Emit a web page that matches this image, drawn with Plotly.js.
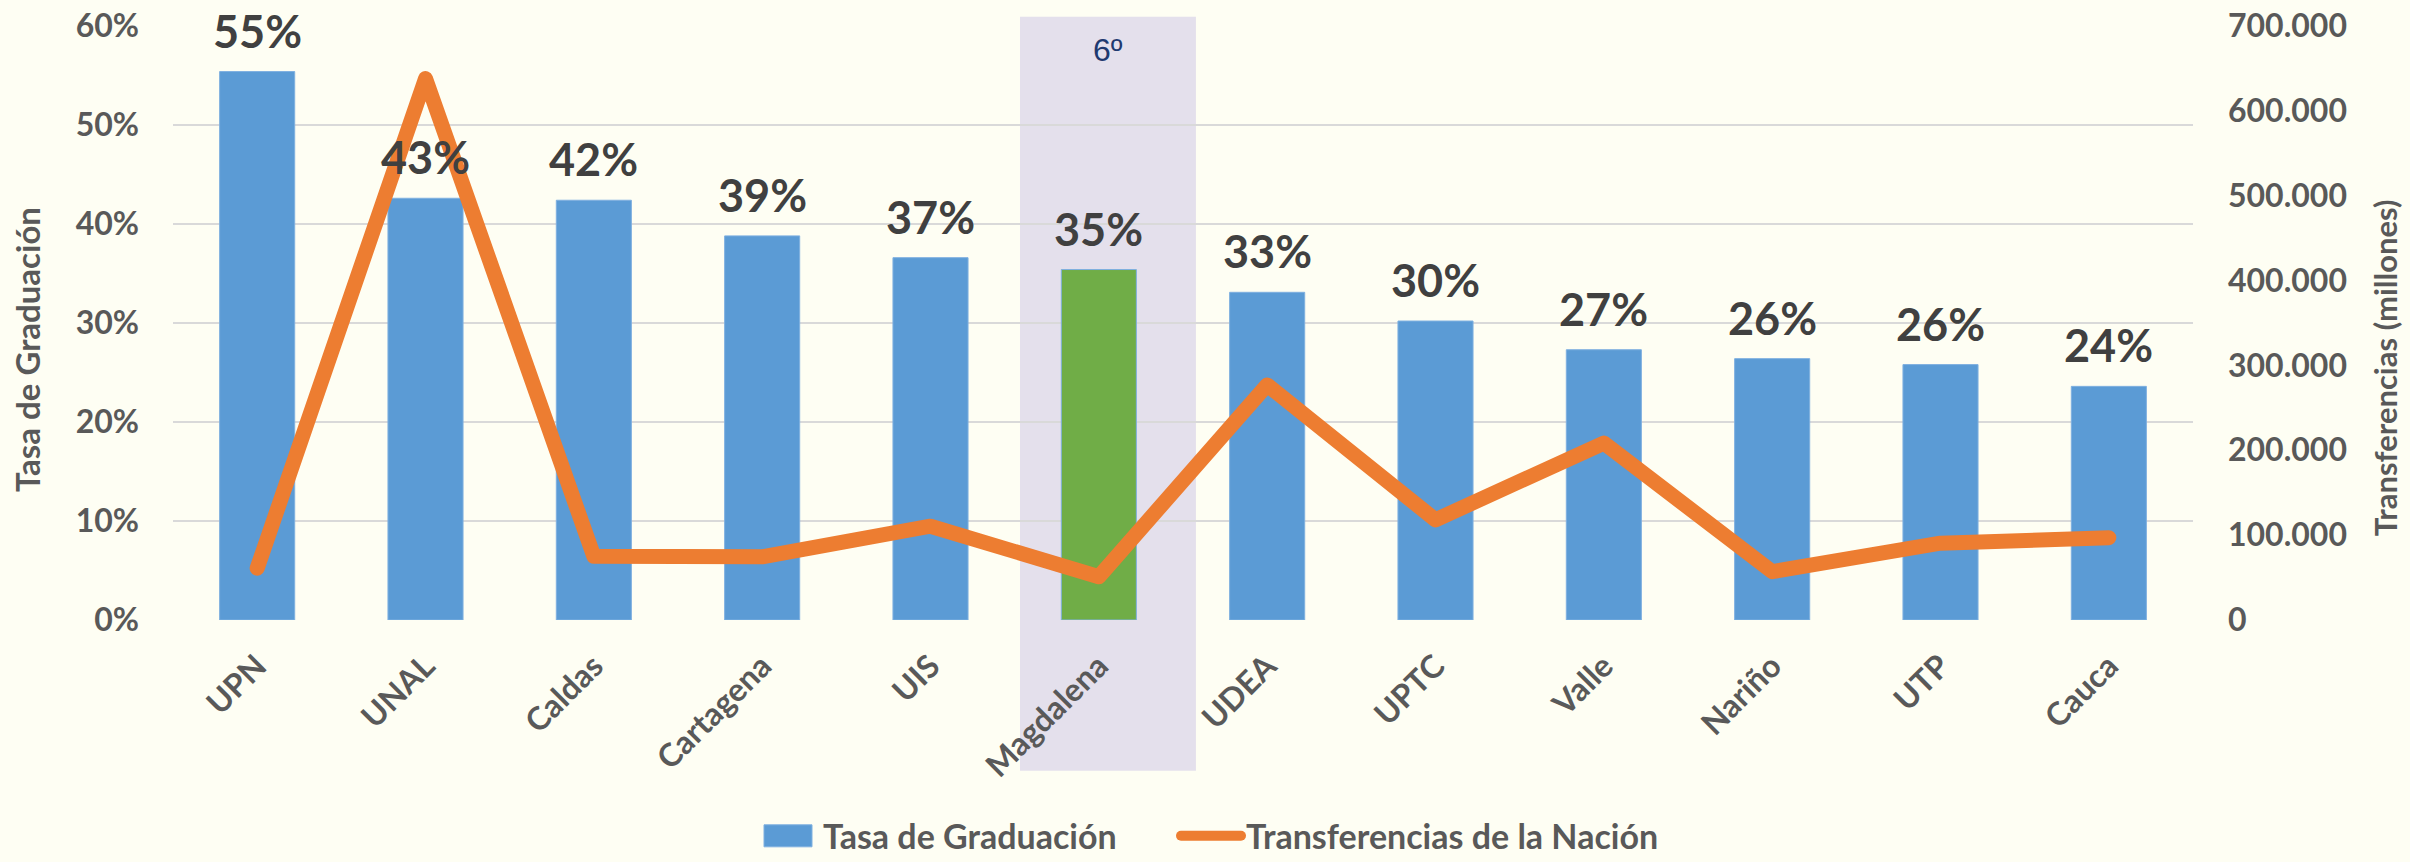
<!DOCTYPE html>
<html>
<head>
<meta charset="utf-8">
<script src="https://cdn.plot.ly/plotly-3.0.1.min.js"></script>
<style>
  html, body { margin: 0; padding: 0; background: #FEFEF3; }
  #chart { width: 2410px; height: 862px; }
  .scatterlayer .js-line { stroke-linejoin: round !important; stroke-linecap: round !important; }
  .legendlines path { stroke-linecap: round !important; }
</style>
</head>
<body>
<div id="chart"></div>
<script>
// ---- data ----
const universidades = ['UPN','UNAL','Caldas','Cartagena','UIS','Magdalena','UDEA','UPTC','Valle','Nariño','UTP','Cauca'];
const tasaGraduacion = [0.554, 0.426, 0.424, 0.388, 0.366, 0.354, 0.331, 0.302, 0.273, 0.264, 0.258, 0.236];
const transferencias = [61000, 638000, 75000, 74500, 110500, 51000, 277000, 118000, 208500, 57000, 90500, 97000];
const destacada = 'Magdalena';
const rankingDestacada = '6º';
const leftTicks = [0, 0.1, 0.2, 0.3, 0.4, 0.5, 0.6];
const rightTicks = [0, 100000, 200000, 300000, 400000, 500000, 600000, 700000];
const tituloIzq = 'Tasa de Graduación';
const tituloDer = 'Transferencias (millones)';

// ---- style ----
const FONT = 'Lato, "Open Sans", sans-serif';
const BLUE = '#5B9BD5', GREEN = '#70AD47', ORANGE = '#ED7D31';
const TICK = '#595959', LABEL = '#404040';

const barColors = universidades.map(u => u === destacada ? GREEN : BLUE);
const labels = tasaGraduacion.map(v => Math.round(v * 100) + '%');

const barTrace = {
  type: 'bar', name: 'Tasa de Graduación', legend: 'legend',
  x: universidades, y: tasaGraduacion,
  marker: { color: barColors, line: { width: 1, color: '#7FB0E0' } },
  hoverinfo: 'x+y'
};
const lineTrace = {
  type: 'scatter', mode: 'lines', name: 'Transferencias de la Nación', legend: 'legend2',
  x: universidades, y: transferencias, yaxis: 'y2',
  line: { color: ORANGE, width: 15 }
};

const annotations = universidades.map((u, i) => ({
  x: u, y: tasaGraduacion[i], xref: 'x', yref: 'y',
  text: labels[i], showarrow: false, yanchor: 'bottom', yshift: 12,
  font: { family: FONT, size: 45, color: LABEL, weight: 'bold' }
}));
annotations.push({
  x: 0.4629, y: 0.9596, xref: 'paper', yref: 'paper',
  text: rankingDestacada, showarrow: false, xanchor: 'center', yanchor: 'middle',
  font: { family: '"Liberation Sans", Arial, sans-serif', size: 32, color: '#1F3A70' }
});
annotations.push({
  x: -0.0723, y: 0.456, xref: 'paper', yref: 'paper', textangle: -90,
  text: tituloIzq, showarrow: false, xanchor: 'center', yanchor: 'middle',
  font: { family: FONT, size: 33, color: TICK, weight: 'bold' }
});
annotations.push({
  x: (2385 - 173) / 2020, y: 0.424, xref: 'paper', yref: 'paper', textangle: -90,
  text: tituloDer, showarrow: false, xanchor: 'center', yanchor: 'middle',
  font: { family: FONT, size: 31, color: TICK, weight: 'bold' }
});

const legendFont = { family: FONT, size: 34, color: TICK, weight: 'bold' };

const layout = {
  width: 2410, height: 862,
  paper_bgcolor: '#FEFEF3', plot_bgcolor: 'rgba(0,0,0,0)',
  margin: { l: 173, r: 217, t: 26, b: 242, pad: 0, autoexpand: false },
  separators: ',.',
  bargap: 0.554,
  showlegend: true,
  legend: {
    orientation: 'h', x: (753 - 173) / 2020, xanchor: 'left', y: -0.364, yanchor: 'middle',
    font: legendFont, itemwidth: 60, bgcolor: 'rgba(0,0,0,0)'
  },
  legend2: {
    orientation: 'h', x: (1176 - 173) / 2020, xanchor: 'left', y: -0.364, yanchor: 'middle',
    font: legendFont, itemwidth: 60, bgcolor: 'rgba(0,0,0,0)'
  },
  xaxis: {
    type: 'category', tickangle: -45, showgrid: false, zeroline: false,
    showline: false, ticks: '', ticklabelstandoff: 20, automargin: false,
    tickfont: { family: FONT, size: 32, color: TICK, weight: 'bold' }
  },
  yaxis: {
    range: [0, 0.6], tickvals: leftTicks, tickformat: '.0%', automargin: false,
    showgrid: true, gridcolor: '#D9D9D9', gridwidth: 2, zeroline: false,
    showline: false, ticks: '', ticklabelstandoff: 33,
    tickfont: { family: FONT, size: 32, color: TICK, weight: 'bold' }
  },
  yaxis2: {
    overlaying: 'y', side: 'right', range: [0, 700000], tickvals: rightTicks, tickformat: ',d',
    showgrid: false, zeroline: false, showline: false, ticks: '', ticklabelstandoff: 34, automargin: false,
    tickfont: { family: FONT, size: 32, color: TICK, weight: 'bold' }
  },
  shapes: [{
    type: 'rect', xref: 'paper', yref: 'paper', layer: 'below',
    x0: 0.4193, x1: 0.5064, y0: -0.2537, y1: 1.0157,
    fillcolor: '#E4E0EC', line: { width: 0 }
  }],
  annotations: annotations
};

Plotly.newPlot('chart', [barTrace, lineTrace], layout, { displayModeBar: false, responsive: false })
  .then(gd => {
    // widen the bar legend swatch to a rectangle like the original
    const sw = gd.querySelector('.legend .traces .legendpoints path');
    if (sw) sw.setAttribute('d', 'M24,11H-24V-11H24Z');
  });
</script>
</body>
</html>
